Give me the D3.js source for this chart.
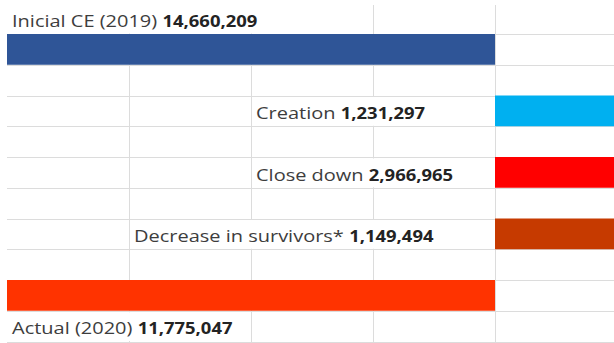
<!DOCTYPE html>
<html>
<head>
<meta charset="utf-8">
<script src="https://cdn.jsdelivr.net/npm/d3@7"></script>
<style>
  html, body { margin: 0; padding: 0; background: #fff; }
  svg { display: block; }
  text { font-family: "Open Sans", Lato, sans-serif; }
</style>
</head>
<body>
<svg id="chart" width="614" height="343"></svg>
<script>
// Company count bridge, 2019 -> 2020
const stepNames  = ["Inicial CE (2019)", "Creation", "Close down", "Decrease in survivors*", "Actual (2020)"];
const stepValues = [14660209, 1231297, 2966965, 1149494, 11775047];
const stepKinds  = ["total", "change", "change", "change", "total"];
const stepColors = ["#2F5597", "#00B0F0", "#FF0000", "#C63A00", "#FF3300"];

// Sheet grid: column letters and row numbers
const sheetCols = ["A", "B", "C", "D", "E", "F"];
const sheetRows = d3.range(11);

const W = 614, H = 343;
const svg = d3.select("#chart");

const x = d3.scaleBand().domain(sheetCols).range([7, 739]);
const y = d3.scaleBand().domain(sheetRows).range([3.25, 341.5]);
const fmt = d3.format(",");
const gridColor = "#DCDCDC";
const fontSize = 15.5;
const nameStretch = 1.29, valueStretch = 1.19;

// Row placement: opening total = label row + bar row, each change = one row,
// closing total = bar row + label row, with an empty row between steps.
const layout = [];
let r = 0;
stepNames.forEach((name, i) => {
  const d = { name, value: stepValues[i], kind: stepKinds[i], color: stepColors[i] };
  if (i === 0) { d.labelRow = r; d.barRow = r + 1; r += 3; }
  else if (d.kind === "change") { d.labelRow = r; d.barRow = r; r += 2; }
  else { d.barRow = r; d.labelRow = r + 1; r += 2; }
  layout.push(d);
});

// Grid lines
const grid = svg.append("g");
sheetRows.slice(1).concat([11]).forEach(k => {
  const yy = Math.round(y.range()[0] + k * y.step()) + 0.5;
  grid.append("line").attr("x1", 7).attr("x2", W).attr("y1", yy).attr("y2", yy)
    .attr("stroke", gridColor).attr("stroke-width", 1);
});
sheetCols.slice(1).forEach(c => {
  const xx = Math.round(x(c)) + 0.5;
  grid.append("line").attr("x1", xx).attr("x2", xx).attr("y1", 5).attr("y2", H)
    .attr("stroke", gridColor).attr("stroke-width", 1);
});

// Bars: totals fill columns A..D, changes run from column E onward
const bars = svg.append("g");
layout.forEach(d => {
  const x0 = d.kind === "total" ? x("A") : x("E");
  const x1 = d.kind === "total" ? x("E") : x.range()[1];
  bars.append("rect")
    .attr("x", x0).attr("y", y(d.barRow))
    .attr("width", x1 - x0).attr("height", y.bandwidth())
    .attr("fill", d.color);
});

// Labels: regular name followed by the bold value; text that overflows
// into neighbouring cells hides the borders it crosses.
const labels = svg.append("g");
layout.forEach(d => {
  const g = labels.append("g");
  const cover = g.append("rect").attr("fill", "#fff");
  const nameT = g.append("text")
    .attr("font-size", fontSize).attr("fill", "#3d3d3d")
    .attr("xml:space", "preserve")
    .text(d.name + " ");
  const valT = g.append("text")
    .attr("font-size", fontSize).attr("font-weight", "bold").attr("fill", "#232323")
    .text(fmt(d.value));
  const nameW = nameT.node().getComputedTextLength() * nameStretch;
  const valW = valT.node().getComputedTextLength() * valueStretch;
  const len = nameW + valW;

  // change labels start in the rightmost column that keeps them clear of the bar
  let startCol = "A";
  if (d.kind === "change") {
    for (const c of ["D", "C", "B", "A"]) {
      if (x(c) + 5 + len < x("E")) { startCol = c; break; }
    }
  }
  const tx = x(startCol) + 5;
  const ty = y(d.labelRow) + 23.5;
  nameT.attr("transform", `translate(${tx},${ty}) scale(${nameStretch},1)`);
  valT.attr("transform", `translate(${tx + nameW},${ty}) scale(${valueStretch},1)`);

  const endCol = sheetCols.find(c => x(c) + x.bandwidth() >= tx + len);
  const cx0 = x(startCol) + 1.5;
  const cx1 = x(endCol) + x.bandwidth() - 1.5;
  cover.attr("x", cx0).attr("y", y(d.labelRow) + 1.5)
    .attr("width", cx1 - cx0).attr("height", y.bandwidth() - 2);
});
</script>
</body>
</html>
